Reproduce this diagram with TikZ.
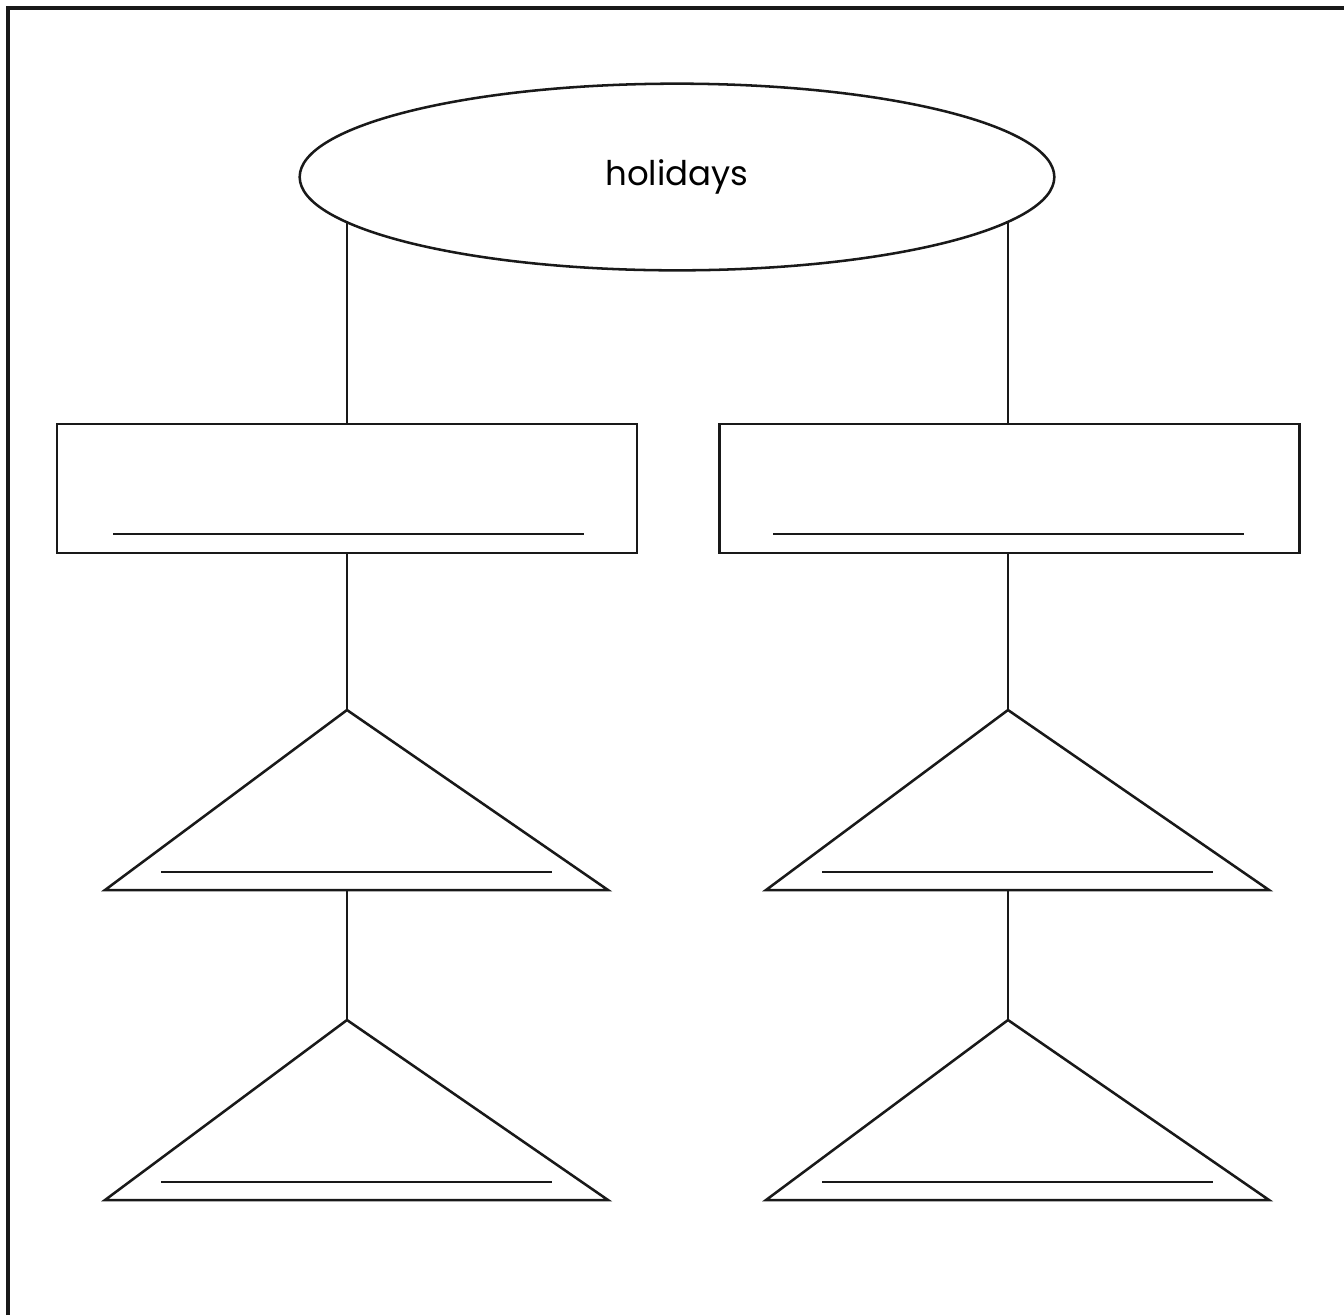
\documentclass[tikz,border=0pt]{standalone}
\usepackage{fontspec}
\setmainfont{Poppins}
\usetikzlibrary{shapes.geometric}
\begin{document}
\begin{tikzpicture}[x=0.75pt,y=-0.75pt,
  ln/.style={line width=1.9pt,draw=black!90},
  boxst/.style={ln,rectangle,minimum width=435pt,minimum height=96.75pt,inner sep=0pt},
  ellst/.style={ln,ellipse,minimum width=566pt,minimum height=140pt,inner sep=0pt,font=\fontsize{25.5}{30}\selectfont},
  blank/.style={line width=1.9pt,draw=black!90}]
\useasboundingbox (0,0) rectangle (1344,1315);
\draw[line width=2.4pt,draw=black!90] (8,1315) -- (8,8) -- (1344,8);
% top ellipse
\node[ellst] (top) at (677,177) {holidays};
% rectangles
\node[boxst] (boxL) at (347,488.5) {};
\node[boxst] (boxR) at (1009.5,488.5) {};
\draw[blank] (113,534) -- (584,534);
\draw[blank] (773,534) -- (1244,534);
% coordinates for triangles
\foreach \side/\cx in {L/347,R/1008}{
  \coordinate (a1\side) at (\cx,710);
  \coordinate (b1\side) at (\cx,890);
  \coordinate (a2\side) at (\cx,1020);
  \coordinate (b2\side) at (\cx,1200);
  \draw[ln,line join=miter] (\cx,710) -- (\cx-242,890) -- (\cx+261,890) -- cycle;
  \draw[ln,line join=miter] (\cx,1020) -- (\cx-242,1200) -- (\cx+261,1200) -- cycle;
  \draw[blank] (\cx-186,872) -- (\cx+205,872);
  \draw[blank] (\cx-186,1182) -- (\cx+205,1182);
}
% connectors
\coordinate (tL) at (347,222);
\coordinate (tR) at (1008,222);
\draw[ln] (tL) -- (boxL.north);
\draw[ln] (tR) -- (boxR.north -| tR);
\draw[ln] (boxL.south) -- (a1L);
\draw[ln] (boxR.south -| a1R) -- (a1R);
\draw[ln] (b1L) -- (a2L);
\draw[ln] (b1R) -- (a2R);
\end{tikzpicture}
\end{document}
